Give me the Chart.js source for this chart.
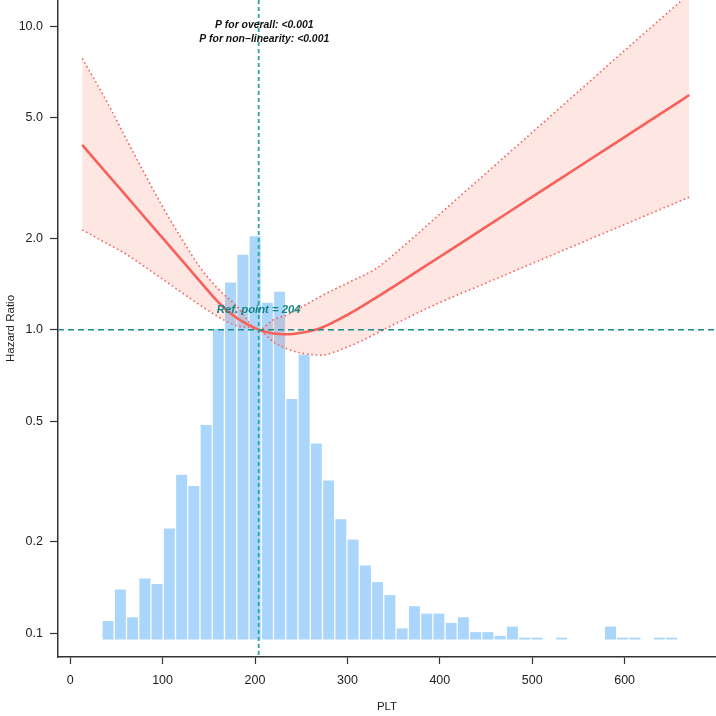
<!DOCTYPE html>
<html>
<head>
<meta charset="utf-8">
<script src="https://cdn.jsdelivr.net/npm/chart.js@4.4.1/dist/chart.umd.min.js"></script>
<style>
  html, body { margin: 0; padding: 0; background: #fff; }
  #rcs { display: block; }
</style>
</head>
<body>
<canvas id="rcs" width="716" height="716"></canvas>
<script>
// RCS curve, hazard ratio by PLT (ref point 204)
const pltX    = [13, 40, 60, 80, 100, 120, 140, 160, 180, 204, 220, 235, 250, 270, 300, 330, 350, 400, 450, 500, 550, 600, 650, 670];
const hrEst   = [4.063, 3.262, 2.775, 2.359, 2.006, 1.706, 1.449, 1.236, 1.095, 1.000, 0.972, 0.966, 0.978, 1.010, 1.120, 1.270, 1.387, 1.739, 2.181, 2.739, 3.435, 4.310, 5.408, 5.930];
const hrLower = [2.133, 1.921, 1.779, 1.618, 1.468, 1.331, 1.208, 1.104, 1.031, 1.000, 0.911, 0.864, 0.838, 0.825, 0.877, 0.968, 1.040, 1.229, 1.425, 1.653, 1.917, 2.222, 2.576, 2.734];
const hrUpper = [7.824, 5.615, 4.287, 3.286, 2.540, 2.008, 1.612, 1.364, 1.199, 1.000, 1.079, 1.121, 1.186, 1.284, 1.425, 1.584, 1.767, 2.405, 3.277, 4.467, 6.090, 8.310, 11.30, 12.79];

// PLT distribution (histogram, counts per bin)
const binMids = [41.0, 54.3, 67.5, 80.8, 94.0, 107.3, 120.6, 133.8, 147.1, 160.3, 173.6, 186.9, 200.1, 213.4, 226.6, 239.9,
                 253.2, 266.4, 279.7, 292.9, 306.2, 319.5, 332.7, 346.0, 359.2, 372.5, 385.8, 399.0, 412.3, 425.5, 438.8, 452.1,
                 465.3, 478.6, 491.8, 505.1, 518.4, 531.6, 544.9, 558.1, 571.4, 584.7, 597.9, 611.2, 624.4, 637.7, 651.0];
const binCounts = [10, 27, 12, 33, 30, 60, 89, 83, 116, 168, 193, 208, 218, 182, 188, 130,
                   154, 106, 86, 65, 54, 40, 31, 24, 6, 18, 14, 14, 9, 12, 4, 4,
                   2, 7, 1, 1, 0, 1, 0, 0, 0, 7, 1, 1, 0, 1, 1];

const xTicks = [0, 100, 200, 300, 400, 500, 600];
const yTicks = [0.1, 0.2, 0.5, 1, 2, 5, 10];

const refPoint = 204;
const refHR = 1;
const pOverall = 'P for overall: <0.001';
const pNonLinear = 'P for non\u2212linearity: <0.001';

const red = '#F8615A';
const bandFill = 'rgba(250,128,114,0.2)';
const barBlue = '#AAD6FB';
const axisColor = '#333';
const fontFamily = '"Liberation Sans", Arial, sans-serif';

const xy = (xs, ys) => xs.map((v, i) => ({ x: v, y: ys[i] }));

const refLines = {
  id: 'refLines',
  afterDatasetsDraw(chart) {
    const { ctx, chartArea: a, scales: { x, y } } = chart;
    const rx = x.getPixelForValue(refPoint);
    const ry = y.getPixelForValue(refHR);
    ctx.save();
    ctx.beginPath();
    ctx.rect(a.left, a.top, a.right - a.left, a.bottom - a.top);
    ctx.clip();
    ctx.lineWidth = 1.4;
    ctx.setLineDash([6, 4]);
    ctx.strokeStyle = '#1F8A8A';
    ctx.beginPath(); ctx.moveTo(a.left, ry); ctx.lineTo(a.right, ry); ctx.stroke();
    ctx.lineWidth = 1.8;
    ctx.setLineDash([4, 3]);
    ctx.strokeStyle = '#2AA3A3';
    ctx.beginPath(); ctx.moveTo(rx, a.top); ctx.lineTo(rx, a.bottom); ctx.stroke();
    ctx.setLineDash([]);

    ctx.textAlign = 'center';
    ctx.textBaseline = 'middle';
    ctx.fillStyle = '#158585';
    ctx.font = 'italic bold 11.3px ' + fontFamily;
    ctx.fillText('Ref. point = ' + refPoint, rx, ry - 19.5);

    ctx.fillStyle = '#111';
    ctx.font = 'italic bold 10.4px ' + fontFamily;
    const tx = x.getPixelForValue(210);
    ctx.fillText(pOverall, tx, a.top + 25);
    ctx.fillText(pNonLinear, tx, a.top + 39);
    ctx.restore();
  }
};

const ciLine = {
  borderColor: red,
  borderWidth: 1.6,
  borderDash: [1.6, 2.8],
  pointRadius: 0,
  cubicInterpolationMode: 'monotone',
  order: 1
};

new Chart(document.getElementById('rcs'), {
  type: 'line',
  data: {
    datasets: [
      {
        label: 'HR',
        data: xy(pltX, hrEst),
        borderColor: red,
        borderWidth: 2.6,
        pointRadius: 0,
        cubicInterpolationMode: 'monotone',
        fill: false,
        order: 0
      },
      { ...ciLine, label: 'Upper', data: xy(pltX, hrUpper), backgroundColor: bandFill, fill: '+1' },
      { ...ciLine, label: 'Lower', data: xy(pltX, hrLower), fill: false },
      {
        type: 'bar',
        label: 'PLT',
        data: xy(binMids, binCounts),
        yAxisID: 'y2',
        backgroundColor: barBlue,
        borderWidth: 0,
        categoryPercentage: 1,
        barPercentage: 0.9,
        order: 5
      }
    ]
  },
  options: {
    responsive: false,
    animation: false,
    devicePixelRatio: 1,
    layout: { padding: 0 },
    plugins: { legend: { display: false }, tooltip: { enabled: false } },
    scales: {
      x: {
        type: 'linear',
        min: -13.2,
        max: 698.9,
        offset: false,
        afterBuildTicks: s => { s.ticks = xTicks.map(v => ({ value: v })); },
        afterFit: s => { s.height = 59; s.paddingLeft = 0; s.paddingRight = 0; },
        ticks: { autoSkip: false, maxRotation: 0, padding: 9, color: '#222', font: { family: fontFamily, size: 12.5 } },
        grid: { offset: false, drawOnChartArea: false, tickLength: 7, tickColor: axisColor, tickWidth: 1.2 },
        border: { display: true, color: axisColor, width: 1.5 },
        title: { display: true, text: 'PLT', color: '#222', font: { family: fontFamily, size: 11.5 }, padding: { top: 0, bottom: 2 } }
      },
      y: {
        type: 'logarithmic',
        position: 'left',
        min: 0.0836,
        max: 12.19,
        afterBuildTicks: s => { s.ticks = yTicks.map(v => ({ value: v })); },
        afterFit: s => { s.width = 58; s.paddingTop = 0; s.paddingBottom = 0; },
        ticks: { autoSkip: false, padding: 7, color: '#222', font: { family: fontFamily, size: 12.5 }, callback: v => Number(v).toFixed(1) },
        grid: { offset: false, drawOnChartArea: false, tickLength: 8, tickColor: axisColor, tickWidth: 1.2 },
        border: { display: true, color: axisColor, width: 1.5 },
        title: { display: true, text: 'Hazard Ratio', color: '#222', font: { family: fontFamily, size: 11.5 }, padding: { top: 4, bottom: 0 } }
      },
      y2: {
        type: 'linear',
        display: false,
        min: -9.46,
        max: 345.7
      }
    }
  },
  plugins: [refLines]
});
</script>
</body>
</html>
